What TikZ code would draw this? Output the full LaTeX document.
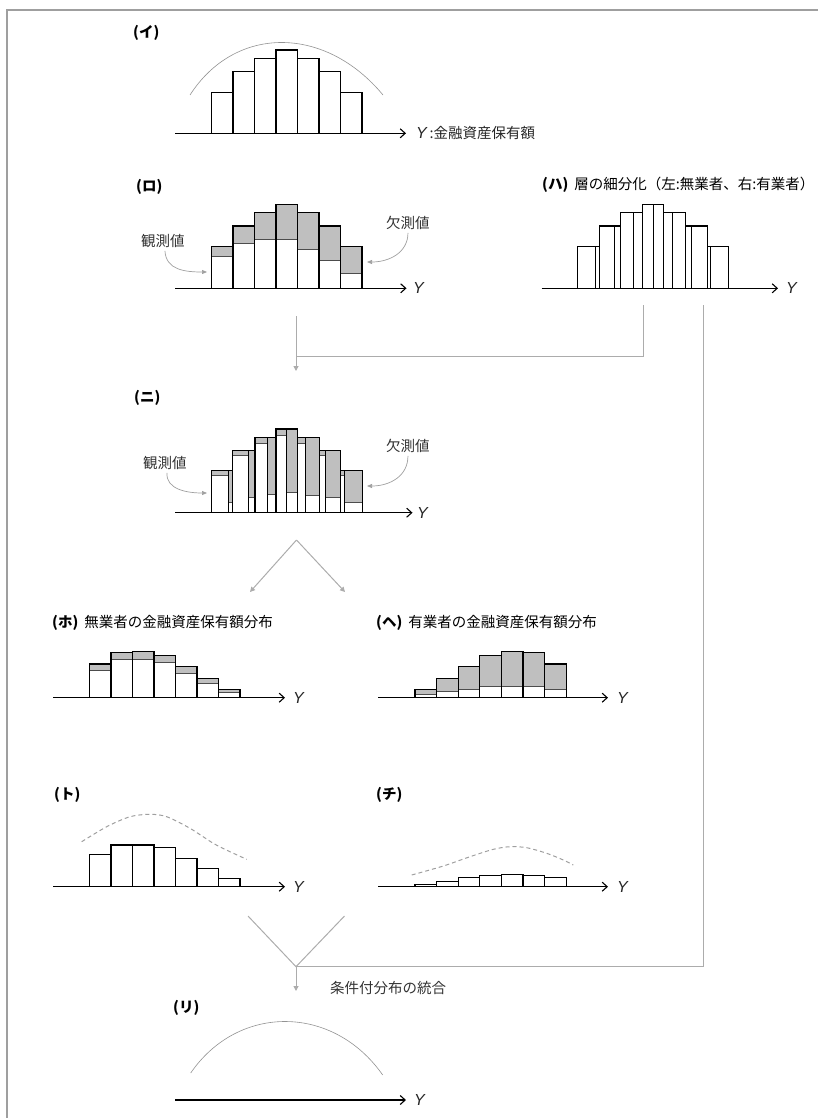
\documentclass[tikz,border=0pt]{standalone}
\usepackage{fontspec}
\setmainfont{Noto Sans CJK JP}
\newfontfamily\yfont{Liberation Sans}
\usetikzlibrary{arrows.meta}
\newcommand\jfs{\fontsize{14.5}{16}\selectfont}
\newcommand\yfs{\fontsize{16}{18}\selectfont\yfont\itshape}
\tikzset{
 frameline/.style={draw=gray!75, line width=1.2pt},
 axisline/.style={line width=1.4pt, -{Straight Barb[length=5pt,width=9pt,line width=1.1pt]}},
 barbox/.style={draw=black, line width=1.15pt},
 gfill/.style={fill=gray!50},
 divline/.style={draw=gray!60!black, line width=0.5pt},
 conn/.style={draw=gray!65, line width=1pt},
 connarr/.style={conn, -{Triangle[length=5pt,width=5pt]}},
 ptitle/.style={anchor=west, inner sep=0pt, font=\jfs\bfseries},
 jlabel/.style={anchor=west, inner sep=0pt, font=\jfs, text=black!80},
 ylab/.style={anchor=west, inner sep=0pt, font=\yfs, text=black!85},
 curvearr/.style={draw=gray!75, line width=0.7pt, -{Triangle[length=5pt,width=4pt]}},
 distcurve/.style={draw=gray!85, line width=0.6pt},
 dashcurve/.style={draw=gray!75, line width=1pt, dash pattern=on 4pt off 3pt},
}
\begin{document}
\begin{tikzpicture}[x=1pt,y=-1pt]
\useasboundingbox (0,0) rectangle (817,1118);
\draw[frameline] (7,1130) -- (7,10) -- (830,10);

% ---------- (イ)
\node[ptitle] (tI) at (133,33) {(イ)};
\foreach \a/\t in {211.5/92.7, 233/71.7, 254.5/58.3, 276/50, 297.5/58.3, 319/71.7, 340.5/92.7}
  \draw[barbox] (\a,133.3) rectangle (\a+21.5,\t);
\draw[axisline] (175,133.3) coordinate (aI0) -- (406,133.3) coordinate (aI1);
\node[ylab] (yI) at (416,133.3) {Y\,{\rmfamily\upshape\jfs :金融資産保有額}};
\draw[distcurve] (190,95) .. controls (235,25) and (325,25) .. (383,95);

% ---------- (ロ)
\node[ptitle] (tRo) at (136,187) {(ロ)};
\foreach \a/\t/\d in {211.5/246.7/256, 233/226/243.3, 254.5/212.7/239.3, 276/204.3/239.3, 297.5/212.7/249.3, 319/226/260.7, 340.5/246.7/273.3}{
  \fill[gfill] (\a,\t) rectangle (\a+21.5,\d);
  \draw[divline] (\a,\d) -- (\a+21.5,\d);
  \draw[barbox] (\a,288.3) rectangle (\a+21.5,\t);
}
\draw[axisline] (175,288.3) coordinate (aRo0) -- (406.5,288.3) coordinate (aRo1);
\node[ylab] (yRo) at (413,288.3) {Y};
\node[jlabel] (obsRo) at (141,241) {観測値};
\coordinate (obsRoTip) at (207,272);
\draw[curvearr] (obsRo.south) ++(2,3) coordinate (obsRoS) .. controls (166,270) and (185,272) .. (obsRoTip);
\node[jlabel] (misRo) at (386,223) {欠測値};
\coordinate (misRoTip) at (367,262);
\draw[curvearr] (misRo.south) ++(0,3) coordinate (misRoS) .. controls (408,252) and (390,262) .. (misRoTip);

% ---------- (ハ)
\node[ptitle] (tHa) at (542,185) {(ハ)\hspace{6pt}{\mdseries 層の細分化（左:無業者、右:有業者）}};
\foreach \a/\t/\f in {577.5/246.7/0.82, 599.1/226/0.72, 620.7/212.7/0.61, 642.3/204.3/0.5, 663.9/212.7/0.38, 685.5/226/0.28, 707.1/246.7/0.17}{
  \draw[barbox] (\a,288.3) rectangle (\a+21.6,\t);
  \draw[barbox] (\a+21.6*\f,288.3) -- (\a+21.6*\f,\t);
}
\draw[axisline] (541.5,288.3) coordinate (aHa0) -- (778,288.3) coordinate (aHa1);
\node[ylab] (yHa) at (786,288.3) {Y};

% ---------- connectors from (ロ),(ハ) to (ニ)
\coordinate (cRoTop) at (296,316);
\coordinate (cRoEnd) at (296,371);
\coordinate (cHaTop) at (643,305);
\coordinate (cJoin) at (296,356);
\draw[connarr] (cRoTop) -- (cRoEnd);
\draw[conn] (cHaTop) -- (643,356) -- (cJoin);
\coordinate (cRight) at (703,305);

% ---------- (ニ)
\node[ptitle] (tNi) at (134,398) {(ニ)};
\foreach \a/\w/\t/\f/\l/\r in {211.5/21/470.7/0.82/475/502.7, 232.5/22.5/450.7/0.72/455/497.3, 255/21/437.7/0.61/443.3/494, 276/21.7/429/0.5/435/492.7, 297.7/21.6/437.7/0.38/443.3/495.3, 319.3/21.4/450.7/0.28/455/497.3, 340.7/21.6/470.7/0.17/475/502.7}{
  \fill[gfill] (\a,\t) rectangle (\a+\w*\f,\l);
  \fill[gfill] (\a+\w*\f,\t) rectangle (\a+\w,\r);
  \draw[divline] (\a,\l) -- (\a+\w*\f,\l);
  \draw[divline] (\a+\w*\f,\r) -- (\a+\w,\r);
  \draw[barbox] (\a,512.7) rectangle (\a+\w,\t);
  \draw[barbox] (\a+\w*\f,512.7) -- (\a+\w*\f,\t);
}
\draw[axisline] (175,512.7) coordinate (aNi0) -- (412.5,512.7) coordinate (aNi1);
\node[ylab] (yNi) at (417,512.7) {Y};
\node[jlabel] (obsNi) at (143,463) {観測値};
\coordinate (obsNiTip) at (207,493);
\draw[curvearr] (obsNi.south) ++(2,3) coordinate (obsNiS) .. controls (166,489) and (186,493) .. (obsNiTip);
\node[jlabel] (misNi) at (386,446) {欠測値};
\coordinate (misNiTip) at (367,486);
\draw[curvearr] (misNi.south) ++(0,3) coordinate (misNiS) .. controls (408,476) and (390,486) .. (misNiTip);

% ---------- split arrows
\coordinate (split) at (296.5,540);
\coordinate (splitL) at (250,592);
\coordinate (splitR) at (345,592);
\draw[connarr] (split) -- (splitL);
\draw[connarr] (split) -- (splitR);

% ---------- (ホ)
\node[ptitle] (tHo) at (52,623) {(ホ)\hspace{6pt}{\mdseries 無業者の金融資産保有額分布}};
\foreach \a/\t/\d in {89.5/664/670, 111/652.3/659.3, 132.5/651.7/659.3, 154/655.7/662.3, 175.5/666.7/673.3, 197/678.3/683.3, 218.5/689.3/692.7}{
  \fill[gfill] (\a,\t) rectangle (\a+21.5,\d);
  \draw[divline] (\a,\d) -- (\a+21.5,\d);
  \draw[barbox] (\a,697.7) rectangle (\a+21.5,\t);
}
\draw[axisline] (53,697.7) coordinate (aHo0) -- (285,697.7) coordinate (aHo1);
\node[ylab] (yHo) at (293,697.7) {Y};

% ---------- (ヘ)
\node[ptitle] (tHe) at (376,623) {(ヘ)\hspace{6pt}{\mdseries 有業者の金融資産保有額分布}};
\foreach \a/\t/\d in {415/689.3/694.3, 436.6/678.3/691, 458.2/666.7/689.3, 479.8/655.7/686, 501.4/651.7/686, 523/652.3/686, 544.6/664/689.3}{
  \fill[gfill] (\a,\t) rectangle (\a+21.6,\d);
  \draw[divline] (\a,\d) -- (\a+21.6,\d);
  \draw[barbox] (\a,697.7) rectangle (\a+21.6,\t);
}
\draw[axisline] (378,697.7) coordinate (aHe0) -- (608,697.7) coordinate (aHe1);
\node[ylab] (yHe) at (617,697.7) {Y};

% ---------- (ト)
\node[ptitle] (tTo) at (54,795) {(ト)};
\foreach \a/\t in {89.5/854.7, 111/845, 132.5/845, 154/847.3, 175.5/858.7, 197/868.7, 218.5/878.7}
  \draw[barbox] (\a,886.7) rectangle (\a+21.5,\t);
\draw[axisline] (53,886.7) coordinate (aTo0) -- (285,886.7) coordinate (aTo1);
\node[ylab] (yTo) at (293,886.7) {Y};
\draw[dashcurve] plot[smooth] coordinates {(81.7,841.7) (106.7,826.7) (130,816.7) (150,814.3) (166.7,816.7) (190,828.3) (213.3,843.3) (230,851.7) (246.7,859.3)};

% ---------- (チ)
\node[ptitle] (tChi) at (376,795) {(チ)};
\foreach \a/\t in {415/884.3, 436.6/881.7, 458.2/877.7, 479.8/875.7, 501.4/874.3, 523/875.7, 544.6/877.7}
  \draw[barbox] (\a,886.7) rectangle (\a+21.6,\t);
\draw[axisline] (378,886.7) coordinate (aChi0) -- (608,886.7) coordinate (aChi1);
\node[ylab] (yChi) at (617,886.7) {Y};
\draw[dashcurve] plot[smooth] coordinates {(411.7,875) (443.3,866) (470,856.7) (493.3,849.3) (510,846.7) (526.7,847.7) (546.7,853.3) (563.3,860) (573.3,865)};

% ---------- merge
\coordinate (mL) at (248,916);
\coordinate (mR) at (344.5,916);
\coordinate (merge) at (296,966.7);
\coordinate (mEnd) at (296,991);
\draw[conn] (mL) -- (merge) -- (mR);
\draw[conn] (cRight) -- (703,966.7) -- (merge);
\draw[connarr] (merge) -- (mEnd);
\node[jlabel] (mLab) at (330,988) {条件付分布の統合};

% ---------- (リ)
\node[ptitle] (tRi) at (173,1008) {(リ)};
\draw[distcurve] (190.7,1073) .. controls (238,1004) and (333,1004) .. (382.7,1075);
\draw[axisline] (175,1100) coordinate (aRi0) -- (406,1100) coordinate (aRi1);
\node[ylab] (yRi) at (414,1100) {Y};
\end{tikzpicture}
\end{document}
